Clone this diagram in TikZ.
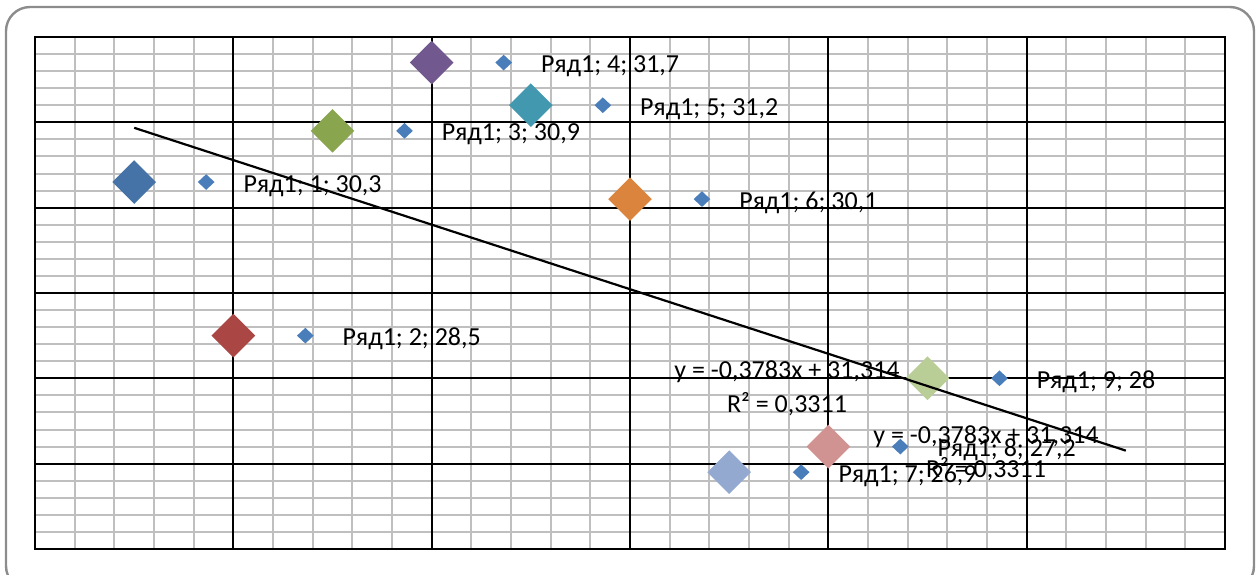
\documentclass[tikz,border=0pt]{standalone}
\usepackage{fontspec}
\setmainfont{Carlito}
\usetikzlibrary{shapes.geometric}
\definecolor{serA}{HTML}{4572A7}
\definecolor{serB}{HTML}{AA4643}
\definecolor{serC}{HTML}{89A54E}
\definecolor{serD}{HTML}{71588F}
\definecolor{serE}{HTML}{4198AF}
\definecolor{serF}{HTML}{DB843D}
\definecolor{serG}{HTML}{93A9CF}
\definecolor{serH}{HTML}{D19392}
\definecolor{serI}{HTML}{B9CD96}
\definecolor{keyblue}{HTML}{4A7EBB}
\definecolor{gridgray}{HTML}{BFBFBF}
\definecolor{framegray}{HTML}{8C8C8C}
\tikzstyle{pmark}=[diamond, draw=none, inner sep=0pt, minimum width=22pt, minimum height=22pt]
\tikzstyle{kmark}=[diamond, draw=none, fill=keyblue, inner sep=0pt, minimum width=8.5pt, minimum height=8pt]
\tikzstyle{ptxt}=[anchor=base west, inner sep=0pt, font=\fontsize{13}{15}\selectfont]
\tikzstyle{eqtxt}=[anchor=base, inner sep=0pt, font=\fontsize{13}{15}\selectfont]
\tikzstyle{minorln}=[draw=gridgray, line width=1pt]
\tikzstyle{majorln}=[draw=black, line width=1pt]

\begin{document}
\begin{tikzpicture}[x=0.5pt,y=-0.5pt]
  \useasboundingbox (0,0) rectangle (1259,574);
  \draw[framegray, line width=1.2pt, rounded corners=12pt] (6,7) rectangle (1254,590);

  \begin{scope}[shift={(35,549)},x=49.583pt,y=42.667pt,yshift=-1109.33pt]
    % grid
    \foreach \i in {1,...,29} \draw[minorln] (\i*0.4,26) -- (\i*0.4,32);
    \foreach \j in {1,...,29} \draw[minorln] (0,26+\j*0.2) -- (12,26+\j*0.2);
    \foreach \i in {2,4,...,10} \draw[majorln] (\i,26) -- (\i,32);
    \foreach \j in {27,...,31} \draw[majorln] (0,\j) -- (12,\j);
    \draw[majorln] (0,26) rectangle (12,32);

    % points
    \node[pmark, fill=serA] (p1) at (1,30.3) {};
    \node[pmark, fill=serB] (p2) at (2,28.5) {};
    \node[pmark, fill=serC] (p3) at (3,30.9) {};
    \node[pmark, fill=serD] (p4) at (4,31.7) {};
    \node[pmark, fill=serE] (p5) at (5,31.2) {};
    \node[pmark, fill=serF] (p6) at (6,30.1) {};
    \node[pmark, fill=serG] (p7) at (7,26.9) {};
    \node[pmark, fill=serH] (p8) at (8,27.2) {};
    \node[pmark, fill=serI] (p9) at (9,28) {};

    % trend
    \coordinate (trA) at (1,30.9357);
    \coordinate (trB) at (11,27.1527);
    \draw[line width=1.1pt] (trA) -- (trB);

    % labels
    \node[kmark] (k1) at ([xshift=36pt]p1) {};
    \node[ptxt] (l1) at ([xshift=54.5pt,yshift=-5pt]p1) {Ряд1; 1; 30,3};
    \node[kmark] (k2) at ([xshift=36pt]p2) {};
    \node[ptxt] (l2) at ([xshift=54.5pt,yshift=-5pt]p2) {Ряд1; 2; 28,5};
    \node[kmark] (k3) at ([xshift=36pt]p3) {};
    \node[ptxt] (l3) at ([xshift=54.5pt,yshift=-5pt]p3) {Ряд1; 3; 30,9};
    \node[kmark] (k4) at ([xshift=36pt]p4) {};
    \node[ptxt] (l4) at ([xshift=54.5pt,yshift=-5pt]p4) {Ряд1; 4; 31,7};
    \node[kmark] (k5) at ([xshift=36pt]p5) {};
    \node[ptxt] (l5) at ([xshift=54.5pt,yshift=-5pt]p5) {Ряд1; 5; 31,2};
    \node[kmark] (k6) at ([xshift=36pt]p6) {};
    \node[ptxt] (l6) at ([xshift=54.5pt,yshift=-5pt]p6) {Ряд1; 6; 30,1};
    \node[kmark] (k7) at ([xshift=36pt]p7) {};
    \node[ptxt] (l7) at ([xshift=54.5pt,yshift=-5pt]p7) {Ряд1; 7; 26,9};
    \node[kmark] (k8) at ([xshift=36pt]p8) {};
    \node[ptxt] (l8) at ([xshift=54.5pt,yshift=-5pt]p8) {Ряд1; 8; 27,2};
    \node[kmark] (k9) at ([xshift=36pt]p9) {};
    \node[ptxt] (l9) at ([xshift=54.5pt,yshift=-5pt]p9) {Ряд1; 9; 28};
  \end{scope}

  % trend equations
  \node[eqtxt] (eqA) at (787,378) {y = -0,3783x + 31,314};
  \node[eqtxt] (rsqA) at (787,412.5) {R² = 0,3311};
  \node[eqtxt] (eqB) at (986,443) {y = -0,3783x + 31,314};
  \node[eqtxt] (rsqB) at (986,477.5) {R² = 0,3311};
\end{tikzpicture}
\end{document}
